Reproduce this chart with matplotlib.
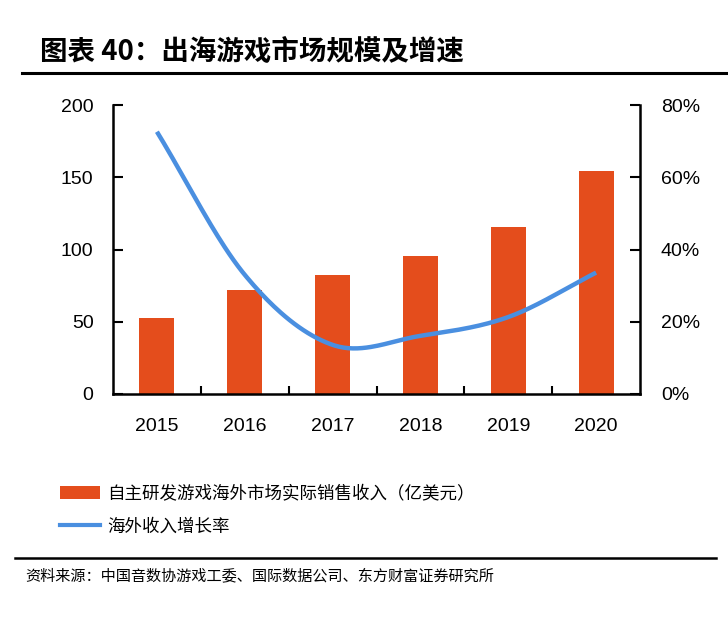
import numpy as np
import matplotlib
matplotlib.use("Agg")
import matplotlib.pyplot as plt
from matplotlib.lines import Line2D
from matplotlib.patches import Patch

plt.rcParams['font.family'] = ['Noto Sans CJK SC', 'DejaVu Sans']

years = ["2015", "2016", "2017", "2018", "2019", "2020"]
revenue = [52.4, 71.8, 82.4, 95.5, 115.8, 154.3]          # 亿美元
growth = [72.6, 33.0, 13.6, 16.1, 21.3, 33.6]               # %
left_ticks = [0, 50, 100, 150, 200]
right_ticks = [0, 20, 40, 60, 80]

title = "图表 40：出海游戏市场规模及增速"
bar_label = "自主研发游戏海外市场实际销售收入（亿美元）"
line_label = "海外收入增长率"
source = "资料来源：中国音数协游戏工委、国际数据公司、东方财富证券研究所"

bar_color = "#E44D1C"
line_color = "#4A8FE0"


def catmull_rom(xs, ys, n=40):
    xs = np.asarray(xs, float); ys = np.asarray(ys, float)
    px = np.concatenate([[2 * xs[0] - xs[1]], xs, [2 * xs[-1] - xs[-2]]])
    py = np.concatenate([[2 * ys[0] - ys[1]], ys, [2 * ys[-1] - ys[-2]]])
    ox, oy = [], []
    for i in range(1, len(px) - 2):
        t = np.linspace(0, 1, n)
        for arr, out in ((px, ox), (py, oy)):
            p0, p1, p2, p3 = arr[i - 1], arr[i], arr[i + 1], arr[i + 2]
            out.extend(0.5 * ((2 * p1) + (-p0 + p2) * t +
                              (2 * p0 - 5 * p1 + 4 * p2 - p3) * t ** 2 +
                              (-p0 + 3 * p1 - 3 * p2 + p3) * t ** 3))
    return np.array(ox), np.array(oy)


fig = plt.figure(figsize=(7.28, 6.22), dpi=100)
fig.patch.set_facecolor("white")
ax = fig.add_axes([113 / 728, 1 - 394 / 622, (640 - 113) / 728, (394 - 105) / 622])
x = np.arange(len(years))
ax.bar(x, revenue, width=0.4, color=bar_color, zorder=2)
ax.set_xlim(-0.5, len(years) - 0.5)
ax.set_ylim(0, 200)
ax.set_yticks(left_ticks)
ax.set_yticklabels([str(v) for v in left_ticks], fontsize=14, family=['Liberation Sans', 'DejaVu Sans'])
ax.set_xticks(x)
ax.set_xticklabels(years, fontsize=14, family=['Liberation Sans', 'DejaVu Sans'])
ax.set_xticks(np.arange(0.5, len(years) - 0.5, 1), minor=True)
ax.tick_params(axis='x', which='major', length=0, pad=17)
ax.tick_params(axis='x', which='minor', direction='in', length=6, width=1.5)
ax.tick_params(axis='y', direction='in', length=7, width=1.5, pad=14)
ax.spines['top'].set_visible(False)
ax.spines['right'].set_visible(False)
ax.spines['left'].set_linewidth(1.8)
ax.spines['bottom'].set_linewidth(1.8)
ax.set_facecolor("none")

ax2 = ax.twinx()
sx, sy = catmull_rom(x, growth)
ax2.plot(sx, sy, color=line_color, lw=3.2, zorder=3, solid_capstyle='butt')
ax2.set_ylim(0, 80)
ax2.set_yticks(right_ticks)
ax2.set_yticklabels([f"{v}%" for v in right_ticks], fontsize=14, family=['Liberation Sans', 'DejaVu Sans'])
ax2.tick_params(axis='y', direction='in', length=7, width=1.5, pad=15)
for s in ['top', 'left', 'bottom']:
    ax2.spines[s].set_visible(False)
ax2.spines['right'].set_linewidth(1.8)

fig.text(40 / 728, 1 - 52 / 622, title, fontsize=19.8, fontweight='bold', va='center', ha='left')
fig.add_artist(Line2D([22 / 728, 1.0], [1 - 73 / 622] * 2, color='black', lw=2.2))

handles = [Patch(facecolor=bar_color, edgecolor='none'), Line2D([], [], color=line_color, lw=3)]
fig.legend(handles, [bar_label, line_label], loc='upper left',
           bbox_to_anchor=(44 / 728, 1 - 469 / 622), frameon=False, fontsize=12.6,
           handlelength=2.3, handleheight=0.75, labelspacing=0.85, handletextpad=0.4)

fig.add_artist(Line2D([15 / 728, 716 / 728], [1 - 558 / 622] * 2, color='black', lw=1.8))
fig.text(25 / 728, 1 - 576 / 622, source, fontsize=10.9, va='center', ha='left')

fig.savefig("out.png", dpi=100, facecolor="white")
